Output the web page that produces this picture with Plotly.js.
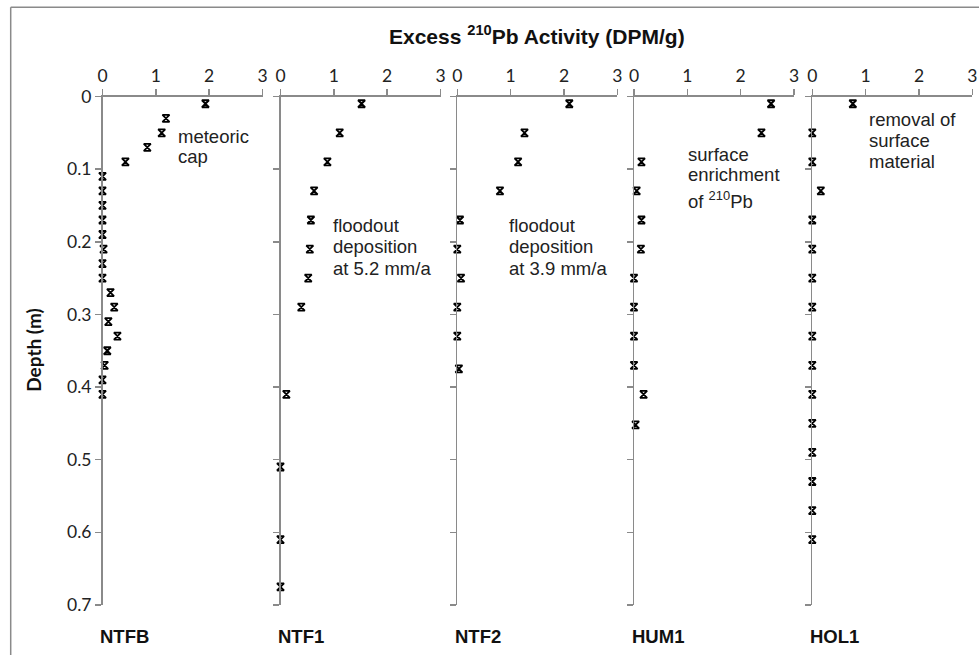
<!DOCTYPE html>
<html>
<head>
<meta charset="utf-8">
<script src="https://cdn.plot.ly/plotly-3.0.1.min.js"></script>
<style>html,body{margin:0;padding:0;background:#fff;}#chart{width:979px;height:655px;}</style>
</head>
<body>
<div id="chart"></div>
<script>
// ---- data ----
const coreNames = ["NTFB", "NTF1", "NTF2", "HUM1", "HOL1"];

const depthNTFB = [0.01,0.03,0.05,0.07,0.09,0.11,0.13,0.15,0.17,0.19,0.21,0.23,0.25,0.27,0.29,0.31,0.33,0.35,0.37,0.39,0.41];
const actNTFB   = [1.93,1.19,1.11,0.84,0.43,0,0,0,0,0,0.02,0,0,0.15,0.22,0.11,0.28,0.09,0.04,0,0];

const depthNTF1 = [0.01,0.05,0.09,0.13,0.17,0.21,0.25,0.29,0.41,0.51,0.61,0.675];
const actNTF1   = [1.52,1.11,0.88,0.63,0.57,0.55,0.52,0.39,0.11,0,0,0];

const depthNTF2 = [0.01,0.05,0.09,0.13,0.17,0.21,0.25,0.29,0.33,0.375];
const actNTF2   = [2.10,1.26,1.14,0.80,0.05,0,0.07,0,0,0.03];

const depthHUM1 = [0.01,0.05,0.09,0.13,0.17,0.21,0.25,0.29,0.33,0.37,0.41,0.452];
const actHUM1   = [2.57,2.39,0.14,0.05,0.14,0.13,0,0,0,0,0.18,0.03];

const depthHOL1 = [0.01,0.05,0.09,0.13,0.17,0.21,0.25,0.29,0.33,0.37,0.41,0.45,0.49,0.53,0.57,0.61];
const actHOL1   = [0.76,0,0,0.16,0,0,0,0,0,0,0,0,0,0,0,0];

const xTicks = [0, 1, 2, 3];
const yTicks = [0, 0.1, 0.2, 0.3, 0.4, 0.5, 0.6, 0.7];
const yTickText = ["0", "0.1", "0.2", "0.3", "0.4", "0.5", "0.6", "0.7"];

const chartTitle = "<b>Excess <sup>210</sup>Pb Activity (DPM/g)</b>";
const yTitle = "<b>Depth (m)</b>";

// notes per panel: [panel index, x (activity), depth, text]
const notes = [
  [0, 1.37, 0.0548, "meteoric"],
  [0, 1.37, 0.0827, "cap"],
  [1, 0.94, 0.178, "floodout"],
  [1, 0.94, 0.207, "deposition"],
  [1, 0.94, 0.237, "at 5.2 mm/a"],
  [2, 0.93, 0.178, "floodout"],
  [2, 0.93, 0.207, "deposition"],
  [2, 0.93, 0.237, "at 3.9 mm/a"],
  [3, 0.975, 0.080, "surface"],
  [3, 0.975, 0.108, "enrichment"],
  [3, 0.975, 0.142, "of <sup>210</sup>Pb"],
  [4, 1.02, 0.0314, "removal of"],
  [4, 1.02, 0.0603, "surface"],
  [4, 1.02, 0.090, "material"]
];

const series = [
  [actNTFB, depthNTFB],
  [actNTF1, depthNTF1],
  [actNTF2, depthNTF2],
  [actHUM1, depthHUM1],
  [actHOL1, depthHOL1]
];

// ---- layout geometry (pixels) ----
const W = 979, H = 655;
const panelLeft = [102.5, 280.5, 457.3, 634, 812.3];
const panelW = 160;
const yTop = 96.5, yBot = 605;
const fx = p => p / W;
const fy = p => 1 - p / H;

const axisColor = "#8a8a8a";
const tickFont = {family: "Lato, 'Open Sans', sans-serif", size: 17.5, color: "#222"};
const textFont = {family: "'Liberation Sans', Arial, sans-serif", size: 18.5, color: "#222"};

const traces = [];
const layout = {
  width: W, height: H,
  margin: {l: 0, r: 0, t: 0, b: 0},
  paper_bgcolor: "#fff", plot_bgcolor: "rgba(0,0,0,0)",
  showlegend: false,
  annotations: [],
  shapes: []
};

series.forEach((s, i) => {
  const sfx = i === 0 ? "" : String(i + 1);
  traces.push({
    type: "scatter", mode: "markers",
    x: s[0], y: s[1],
    xaxis: "x" + sfx, yaxis: "y" + sfx,
    cliponaxis: false,
    marker: {symbol: "hourglass-open", size: 7, color: "#000", line: {color: "#000", width: 1.8}},
    hoverinfo: "x+y"
  });
  layout["xaxis" + sfx] = {
    domain: [fx(panelLeft[i]), fx(panelLeft[i] + panelW)],
    range: [0, 3], side: "top", anchor: "y" + sfx,
    showline: true, linecolor: axisColor, linewidth: 1.5,
    ticks: "outside", ticklen: 6, tickwidth: 1.5, tickcolor: axisColor,
    tickmode: "array", tickvals: xTicks,
    showgrid: false, zeroline: false, fixedrange: true,
    tickfont: tickFont
  };
  layout["yaxis" + sfx] = {
    domain: [fy(yBot), fy(yTop)],
    range: [0.7, 0], anchor: "x" + sfx,
    showline: true, linecolor: axisColor, linewidth: 1.5,
    ticks: "outside", ticklen: 6, tickwidth: 1.5, tickcolor: axisColor,
    tickmode: "array", tickvals: yTicks, ticktext: yTickText,
    showticklabels: i === 0,
    showgrid: false, zeroline: false, fixedrange: true,
    tickfont: tickFont
  };
  layout.annotations.push({
    xref: "paper", yref: "paper",
    x: fx(panelLeft[i] - 4.5), y: fy(636.5),
    xanchor: "left", yanchor: "middle",
    text: "<b>" + coreNames[i] + "</b>", showarrow: false,
    font: {family: "'Liberation Sans', Arial, sans-serif", size: 18.5, color: "#111"}
  });
});

notes.forEach(n => {
  const sfx = n[0] === 0 ? "" : String(n[0] + 1);
  layout.annotations.push({
    xref: "x" + sfx, yref: "y" + sfx,
    x: n[1], y: n[2], xanchor: "left", yanchor: "middle",
    text: n[3], showarrow: false, font: textFont
  });
});

layout.annotations.push({
  xref: "paper", yref: "paper", x: fx(536.5), y: fy(35),
  xanchor: "center", yanchor: "middle", showarrow: false,
  text: chartTitle,
  font: {family: "'Liberation Sans', Arial, sans-serif", size: 21, color: "#111"}
});
layout.annotations.push({
  xref: "paper", yref: "paper", x: fx(34), y: fy(350.75),
  xanchor: "center", yanchor: "middle", showarrow: false, textangle: -90,
  text: yTitle,
  font: {family: "Lato, 'Open Sans', sans-serif", size: 19, color: "#111"}
});

// outer frame
layout.shapes.push({type: "line", xref: "paper", yref: "paper", x0: fx(10.7), x1: fx(10.7), y0: fy(7.3), y1: 0, line: {color: "#8a8a8a", width: 1.5}});
layout.shapes.push({type: "line", xref: "paper", yref: "paper", x0: fx(10.7), x1: 1, y0: fy(7.3), y1: fy(7.3), line: {color: "#8a8a8a", width: 1.5}});

Plotly.newPlot("chart", traces, layout, {displayModeBar: false, staticPlot: true});
</script>
</body>
</html>
